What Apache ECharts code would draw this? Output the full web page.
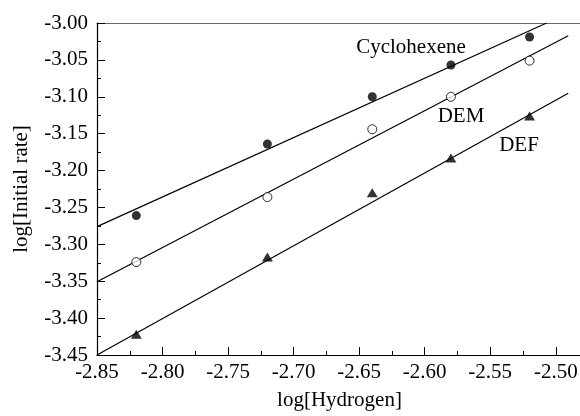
<!DOCTYPE html>
<html>
<head>
<meta charset="utf-8">
<script src="https://cdn.jsdelivr.net/npm/echarts@6/dist/echarts.min.js"></script>
<style>html,body{margin:0;padding:0;background:#fff;}#c{width:580px;height:416px;}</style>
</head>
<body>
<div id="c"></div>
<script>
var xValues = [-2.82, -2.72, -2.64, -2.58, -2.52];
var cyclohexene = [-3.261, -3.164, -3.100, -3.057, -3.019];
var dem = [-3.324, -3.236, -3.144, -3.100, -3.051];
var def = [-3.422, -3.317, -3.230, -3.183, -3.126];
var cycloFit = [[-2.85, -3.276], [-2.507, -3.000]];
var demFit = [[-2.85, -3.3506], [-2.4905, -3.0172]];
var defFit = [[-2.85, -3.450], [-2.4905, -3.0953]];
var seriesLabels = ['Cyclohexene', 'DEM', 'DEF'];
var xTitle = 'log[Hydrogen]';
var yTitle = 'log[Initial rate]';

function pairs(xs, ys) { return xs.map(function (x, i) { return [x, ys[i]]; }); }

var FONT = '"Liberation Serif", "Times New Roman", serif';
var FS = 21;
var chart = echarts.init(document.getElementById('c'), null, {renderer: 'canvas'});

function fitLine(d) {
  return {type: 'line', data: d, symbol: 'none', silent: true,
    lineStyle: {color: '#000', width: 1.2}, z: 2};
}

chart.setOption({
  animation: false,
  backgroundColor: '#fff',
  grid: {left: 97, right: -2, top: 23, bottom: 61, containLabel: false, outerBoundsMode: 'none'},
  xAxis: [{
    type: 'value', min: -2.85, max: -2.48, interval: 0.05,
    name: xTitle, nameLocation: 'middle', nameGap: 35,
    nameTextStyle: {fontFamily: FONT, fontSize: FS, color: '#000'},
    axisLine: {onZero: false, lineStyle: {color: '#000', width: 1.2}},
    axisTick: {inside: true, length: 8, lineStyle: {color: '#000'}},
    minorTick: {show: true, splitNumber: 2, length: 4, lineStyle: {color: '#000'}},
    splitLine: {show: false},
    axisLabel: {fontFamily: FONT, fontSize: FS, color: '#000', margin: 7,
      formatter: function (v) {
        var k = Math.round((v + 2.85) / 0.05);
        if (Math.abs(v - (-2.85 + k * 0.05)) > 1e-6) return '';
        return v.toFixed(2);
      }}
  }, {
    type: 'value', position: 'top', min: -2.85, max: -2.48,
    axisLine: {show: true, onZero: false, lineStyle: {color: '#666', width: 1.2}},
    axisTick: {show: false}, axisLabel: {show: false}, splitLine: {show: false}
  }],
  yAxis: {
    type: 'value', min: -3.45, max: -3.00, interval: 0.05,
    name: yTitle, nameLocation: 'middle', nameGap: 65, nameRotate: 90,
    nameTextStyle: {fontFamily: FONT, fontSize: FS, color: '#000'},
    axisLine: {show: true, onZero: false, lineStyle: {color: '#000', width: 1.2}},
    axisTick: {inside: true, length: 8, lineStyle: {color: '#000'}},
    minorTick: {show: true, splitNumber: 2, length: 4, lineStyle: {color: '#000'}},
    splitLine: {show: false},
    axisLabel: {fontFamily: FONT, fontSize: FS, color: '#000', margin: 9,
      formatter: function (v) { return v.toFixed(2); }}
  },
  series: [
    fitLine(cycloFit), fitLine(demFit), fitLine(defFit),
    {type: 'scatter', data: pairs(xValues, cyclohexene), symbol: 'circle', symbolSize: 9,
      itemStyle: {color: '#000'}, z: 3},
    {type: 'scatter', data: pairs(xValues, dem), symbol: 'circle', symbolSize: 9,
      itemStyle: {color: '#fff', borderColor: '#000', borderWidth: 1}, z: 3},
    {type: 'scatter', data: pairs(xValues, def), symbol: 'triangle', symbolSize: [11, 9],
      itemStyle: {color: '#000'}, z: 3}
  ],
  graphic: [
    {type: 'text', x: 411, y: 47, style: {text: seriesLabels[0], font: FS + 'px ' + FONT, fill: '#000', align: 'center', verticalAlign: 'middle', textAlign: 'center', textVerticalAlign: 'middle'}},
    {type: 'text', x: 461, y: 116, style: {text: seriesLabels[1], font: FS + 'px ' + FONT, fill: '#000', align: 'center', verticalAlign: 'middle', textAlign: 'center', textVerticalAlign: 'middle'}},
    {type: 'text', x: 519, y: 145, style: {text: seriesLabels[2], font: FS + 'px ' + FONT, fill: '#000', align: 'center', verticalAlign: 'middle', textAlign: 'center', textVerticalAlign: 'middle'}}
  ]
});
</script>
</body>
</html>
